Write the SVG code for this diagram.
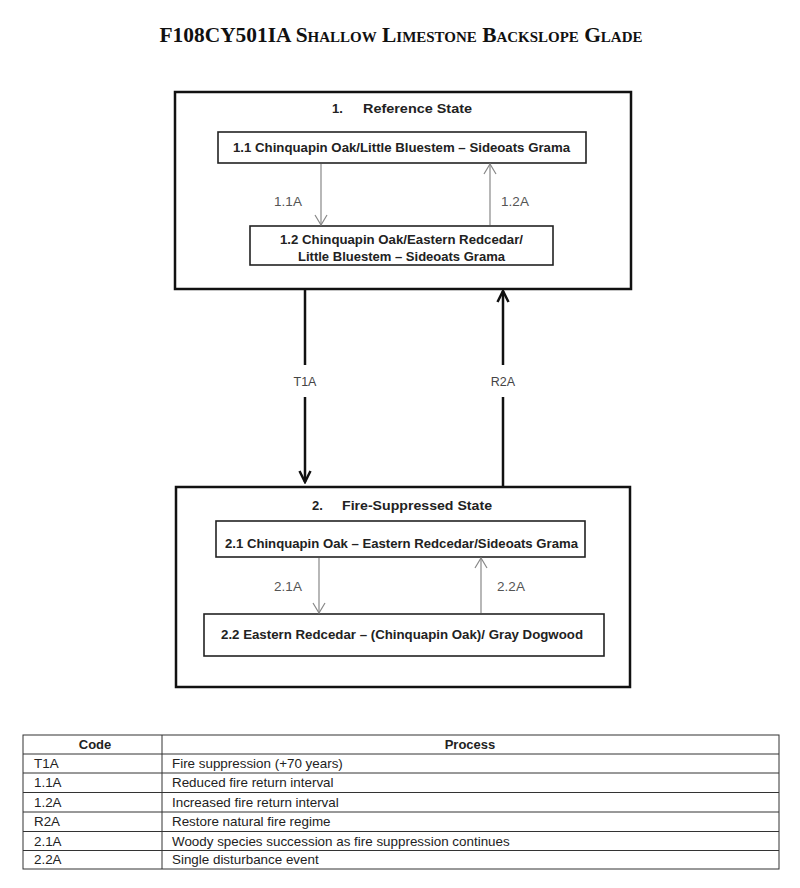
<svg xmlns="http://www.w3.org/2000/svg" width="800" height="888" viewBox="0 0 800 888">
<style>
.title{font-family:"Liberation Serif","Times New Roman",serif;font-weight:bold;font-variant:small-caps;font-size:20px;fill:#111}
.state{fill:#fff;stroke:#111;stroke-width:2.5}
.comm{fill:#fff;stroke:#222;stroke-width:1.6}
.st{font-family:"Liberation Sans",Arial,sans-serif;font-weight:bold;font-size:13px;fill:#222}
.ct{font-family:"Liberation Sans",Arial,sans-serif;font-weight:bold;font-size:12.5px;fill:#222}
.lab{font-family:"Liberation Sans",Arial,sans-serif;font-size:13.5px;fill:#555;text-anchor:middle}
.lab2{font-family:"Liberation Sans",Arial,sans-serif;font-size:12.5px;fill:#444;text-anchor:middle}
.thin{stroke:#888;stroke-width:1.2;fill:none}
.thick{stroke:#111;stroke-width:2.5;fill:none}
.tb{fill:none;stroke:#333;stroke-width:1}
.tt{font-family:"Liberation Sans",Arial,sans-serif;font-size:13.4px;fill:#222}
.th{font-family:"Liberation Sans",Arial,sans-serif;font-size:13px;font-weight:bold;fill:#222;text-anchor:middle}
</style>
<defs>
<marker id="vthin" viewBox="0 0 12 14" refX="11" refY="7" markerWidth="12" markerHeight="14" markerUnits="userSpaceOnUse" orient="auto">
<path d="M1,1 L11,7 L1,13" fill="none" stroke="#888" stroke-width="1.2"/>
</marker>
<marker id="vthick" viewBox="0 0 14 14" refX="12.5" refY="7" markerWidth="14" markerHeight="14" markerUnits="userSpaceOnUse" orient="auto">
<path d="M1.5,1.5 L12.5,7 L1.5,12.5" fill="none" stroke="#111" stroke-width="2.5"/>
</marker>
</defs>
<rect width="800" height="888" fill="#fff"/>
<text id="title" class="title" x="401" y="42" text-anchor="middle" textLength="483" lengthAdjust="spacingAndGlyphs">F108CY501IA Shallow Limestone Backslope Glade</text>

<g id="state1">
<rect class="state" x="175" y="92" width="456" height="197"/>
<text class="st" y="113"><tspan x="332">1.</tspan><tspan x="363" textLength="109" lengthAdjust="spacingAndGlyphs">Reference State</tspan></text>
</g>
<g id="c11">
<rect class="comm" x="218" y="132" width="368" height="31"/>
<text class="ct" x="401.5" y="152" text-anchor="middle" textLength="337" lengthAdjust="spacingAndGlyphs">1.1 Chinquapin Oak/Little Bluestem – Sideoats Grama</text>
</g>
<g id="c12">
<rect class="comm" x="250" y="226" width="303" height="39"/>
<text class="ct" x="401.5" y="244" text-anchor="middle" textLength="243" lengthAdjust="spacingAndGlyphs">1.2 Chinquapin Oak/Eastern Redcedar/</text>
<text class="ct" x="401.5" y="261" text-anchor="middle" textLength="207" lengthAdjust="spacingAndGlyphs">Little Bluestem – Sideoats Grama</text>
</g>

<g id="state2">
<rect class="state" x="176" y="487" width="454" height="200"/>
<text class="st" y="510"><tspan x="312">2.</tspan><tspan x="342" textLength="150" lengthAdjust="spacingAndGlyphs">Fire-Suppressed State</tspan></text>
</g>
<g id="c21">
<rect class="comm" x="216" y="521" width="369" height="36"/>
<text class="ct" x="401.5" y="548" text-anchor="middle" textLength="353" lengthAdjust="spacingAndGlyphs">2.1 Chinquapin Oak – Eastern Redcedar/Sideoats Grama</text>
</g>
<g id="c22">
<rect class="comm" x="204" y="614" width="400" height="42"/>
<text class="ct" x="402" y="639" text-anchor="middle" textLength="362" lengthAdjust="spacingAndGlyphs">2.2 Eastern Redcedar –  (Chinquapin Oak)/ Gray Dogwood</text>
</g>

<g id="connectors">
<line class="thin" x1="321" y1="164" x2="321" y2="225" marker-end="url(#vthin)"/>
<line class="thin" x1="490" y1="225" x2="490" y2="164" marker-end="url(#vthin)"/>
<line class="thick" x1="305" y1="290" x2="305" y2="365"/>
<line class="thick" x1="305" y1="397" x2="305" y2="482" marker-end="url(#vthick)"/>
<line class="thick" x1="503" y1="486" x2="503" y2="397"/>
<line class="thick" x1="503" y1="365" x2="503" y2="291" marker-end="url(#vthick)"/>
<line class="thin" x1="319" y1="558" x2="319" y2="613" marker-end="url(#vthin)"/>
<line class="thin" x1="481" y1="613" x2="481" y2="558" marker-end="url(#vthin)"/>
<text class="lab" x="288" y="206">1.1A</text>
<text class="lab" x="515" y="206">1.2A</text>
<text class="lab2" x="305" y="386">T1A</text>
<text class="lab2" x="503" y="386">R2A</text>
<text class="lab" x="288" y="591">2.1A</text>
<text class="lab" x="511" y="591">2.2A</text>
</g>

<g id="table">
<rect class="tb" x="23" y="735" width="756" height="134"/>
<line class="tb" x1="162" y1="735" x2="162" y2="869"/>
<line class="tb" x1="23" y1="754" x2="779" y2="754"/>
<line class="tb" x1="23" y1="773" x2="779" y2="773"/>
<line class="tb" x1="23" y1="792.5" x2="779" y2="792.5"/>
<line class="tb" x1="23" y1="812" x2="779" y2="812"/>
<line class="tb" x1="23" y1="831.5" x2="779" y2="831.5"/>
<line class="tb" x1="23" y1="850.5" x2="779" y2="850.5"/>
<text class="th" x="95" y="749">Code</text>
<text class="th" x="470" y="749">Process</text>
<text class="tt" x="34" y="768">T1A</text>
<text class="tt" x="172" y="768">Fire suppression (+70 years)</text>
<text class="tt" x="34" y="787">1.1A</text>
<text class="tt" x="172" y="787">Reduced fire return interval</text>
<text class="tt" x="34" y="806.5">1.2A</text>
<text class="tt" x="172" y="806.5">Increased fire return interval</text>
<text class="tt" x="34" y="826">R2A</text>
<text class="tt" x="172" y="826">Restore natural fire regime</text>
<text class="tt" x="34" y="845.5">2.1A</text>
<text class="tt" x="172" y="845.5">Woody species succession as fire suppression continues</text>
<text class="tt" x="34" y="864">2.2A</text>
<text class="tt" x="172" y="864">Single disturbance event</text>
</g>
</svg>
